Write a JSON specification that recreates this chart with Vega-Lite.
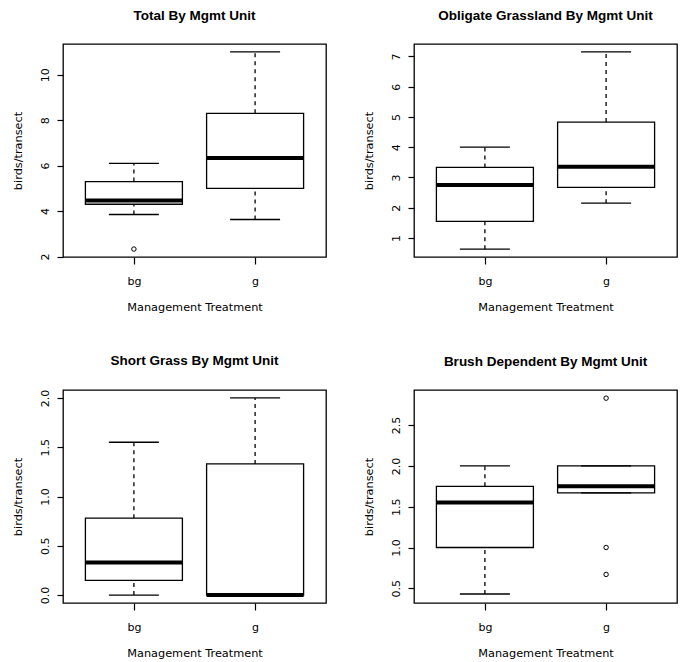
{
  "$schema": "https://vega.github.io/schema/vega-lite/v6.json",
  "background": "white",
  "padding": {"left": 11, "top": 7, "right": 0, "bottom": 0},
  "bounds": "flush",
  "columns": 2,
  "spacing": {"row": 133, "column": 88},
  "datasets": {
    "stats": [
      {"panel": "total", "group": "bg", "lower": 3.85, "q1": 4.3, "median": 4.47, "q3": 5.3, "upper": 6.1},
      {"panel": "total", "group": "g", "lower": 3.63, "q1": 5.0, "median": 6.33, "q3": 8.3, "upper": 11.0},
      {"panel": "oblig", "group": "bg", "lower": 0.63, "q1": 1.55, "median": 2.75, "q3": 3.33, "upper": 4.0},
      {"panel": "oblig", "group": "g", "lower": 2.15, "q1": 2.67, "median": 3.35, "q3": 4.83, "upper": 7.15},
      {"panel": "short", "group": "bg", "lower": 0.0, "q1": 0.15, "median": 0.33, "q3": 0.78, "upper": 1.55},
      {"panel": "short", "group": "g", "lower": 0.0, "q1": 0.0, "median": 0.0, "q3": 1.33, "upper": 2.0},
      {"panel": "brush", "group": "bg", "lower": 0.43, "q1": 1.0, "median": 1.55, "q3": 1.75, "upper": 2.0},
      {"panel": "brush", "group": "g", "lower": 1.67, "q1": 1.67, "median": 1.75, "q3": 2.0, "upper": 2.0}
    ],
    "out": [
      {"panel": "total", "group": "bg", "value": 2.33},
      {"panel": "brush", "group": "g", "value": 2.83},
      {"panel": "brush", "group": "g", "value": 1.0},
      {"panel": "brush", "group": "g", "value": 0.67}
    ]
  },
  "concat": [
    {
      "width": 263, "height": 213,
      "title": "Total By Mgmt Unit",
      "layer": [
        {"data": {"name": "stats"}, "transform": [{"filter": "datum.panel === 'total'"}],
         "mark": {"type": "rule", "color": "black", "strokeWidth": 1.3, "strokeDash": [4, 4]},
         "encoding": {
           "x": {"field": "group", "type": "nominal", "scale": {"type": "point", "domain": ["bg", "g"], "padding": 0.585}, "axis": {"title": "Management Treatment"}},
           "y": {"field": "lower", "type": "quantitative", "scale": {"domain": [1.98, 11.35], "nice": false, "zero": false}, "axis": {"title": "birds/transect", "values": [2, 4, 6, 8, 10], "tickCount": 20, "format": "d"}},
           "y2": {"field": "q1"}}},
        {"data": {"name": "stats"}, "transform": [{"filter": "datum.panel === 'total'"}],
         "mark": {"type": "rule", "color": "black", "strokeWidth": 1.3, "strokeDash": [4, 4]},
         "encoding": {
           "x": {"field": "group", "type": "nominal", "scale": {"type": "point", "domain": ["bg", "g"], "padding": 0.585}},
           "y": {"field": "q3", "type": "quantitative", "scale": {"domain": [1.98, 11.35], "nice": false, "zero": false}},
           "y2": {"field": "upper"}}},
        {"data": {"name": "stats"}, "transform": [{"filter": "datum.panel === 'total'"}],
         "mark": {"type": "bar", "width": 97, "fill": "white", "stroke": "black", "strokeWidth": 1.3},
         "encoding": {
           "x": {"field": "group", "type": "nominal", "scale": {"type": "point", "domain": ["bg", "g"], "padding": 0.585}},
           "y": {"field": "q1", "type": "quantitative", "scale": {"domain": [1.98, 11.35], "nice": false, "zero": false}},
           "y2": {"field": "q3"}}},
        {"data": {"name": "stats"}, "transform": [{"filter": "datum.panel === 'total'"}],
         "mark": {"type": "tick", "color": "black", "size": 97, "thickness": 4, "opacity": 1},
         "encoding": {
           "x": {"field": "group", "type": "nominal", "scale": {"type": "point", "domain": ["bg", "g"], "padding": 0.585}},
           "y": {"field": "median", "type": "quantitative", "scale": {"domain": [1.98, 11.35], "nice": false, "zero": false}}}},
        {"data": {"name": "stats"}, "transform": [{"filter": "datum.panel === 'total'"}],
         "mark": {"type": "tick", "color": "black", "size": 50, "thickness": 1.3, "opacity": 1},
         "encoding": {
           "x": {"field": "group", "type": "nominal", "scale": {"type": "point", "domain": ["bg", "g"], "padding": 0.585}},
           "y": {"field": "lower", "type": "quantitative", "scale": {"domain": [1.98, 11.35], "nice": false, "zero": false}}}},
        {"data": {"name": "stats"}, "transform": [{"filter": "datum.panel === 'total'"}],
         "mark": {"type": "tick", "color": "black", "size": 50, "thickness": 1.3, "opacity": 1},
         "encoding": {
           "x": {"field": "group", "type": "nominal", "scale": {"type": "point", "domain": ["bg", "g"], "padding": 0.585}},
           "y": {"field": "upper", "type": "quantitative", "scale": {"domain": [1.98, 11.35], "nice": false, "zero": false}}}},
        {"data": {"name": "out"}, "transform": [{"filter": "datum.panel === 'total'"}],
         "mark": {"type": "point", "shape": "circle", "filled": false, "color": "black", "size": 20, "strokeWidth": 1, "opacity": 1},
         "encoding": {
           "x": {"field": "group", "type": "nominal", "scale": {"type": "point", "domain": ["bg", "g"], "padding": 0.585}},
           "y": {"field": "value", "type": "quantitative", "scale": {"domain": [1.98, 11.35], "nice": false, "zero": false}}}}
      ]
    },
    {
      "width": 263, "height": 213,
      "title": "Obligate Grassland By Mgmt Unit",
      "layer": [
        {"data": {"name": "stats"}, "transform": [{"filter": "datum.panel === 'oblig'"}],
         "mark": {"type": "rule", "color": "black", "strokeWidth": 1.3, "strokeDash": [4, 4]},
         "encoding": {
           "x": {"field": "group", "type": "nominal", "scale": {"type": "point", "domain": ["bg", "g"], "padding": 0.585}, "axis": {"title": "Management Treatment"}},
           "y": {"field": "lower", "type": "quantitative", "scale": {"domain": [0.37, 7.41], "nice": false, "zero": false}, "axis": {"title": "birds/transect", "values": [1, 2, 3, 4, 5, 6, 7], "tickCount": 20, "format": "d"}},
           "y2": {"field": "q1"}}},
        {"data": {"name": "stats"}, "transform": [{"filter": "datum.panel === 'oblig'"}],
         "mark": {"type": "rule", "color": "black", "strokeWidth": 1.3, "strokeDash": [4, 4]},
         "encoding": {
           "x": {"field": "group", "type": "nominal", "scale": {"type": "point", "domain": ["bg", "g"], "padding": 0.585}},
           "y": {"field": "q3", "type": "quantitative", "scale": {"domain": [0.37, 7.41], "nice": false, "zero": false}},
           "y2": {"field": "upper"}}},
        {"data": {"name": "stats"}, "transform": [{"filter": "datum.panel === 'oblig'"}],
         "mark": {"type": "bar", "width": 97, "fill": "white", "stroke": "black", "strokeWidth": 1.3},
         "encoding": {
           "x": {"field": "group", "type": "nominal", "scale": {"type": "point", "domain": ["bg", "g"], "padding": 0.585}},
           "y": {"field": "q1", "type": "quantitative", "scale": {"domain": [0.37, 7.41], "nice": false, "zero": false}},
           "y2": {"field": "q3"}}},
        {"data": {"name": "stats"}, "transform": [{"filter": "datum.panel === 'oblig'"}],
         "mark": {"type": "tick", "color": "black", "size": 97, "thickness": 4, "opacity": 1},
         "encoding": {
           "x": {"field": "group", "type": "nominal", "scale": {"type": "point", "domain": ["bg", "g"], "padding": 0.585}},
           "y": {"field": "median", "type": "quantitative", "scale": {"domain": [0.37, 7.41], "nice": false, "zero": false}}}},
        {"data": {"name": "stats"}, "transform": [{"filter": "datum.panel === 'oblig'"}],
         "mark": {"type": "tick", "color": "black", "size": 50, "thickness": 1.3, "opacity": 1},
         "encoding": {
           "x": {"field": "group", "type": "nominal", "scale": {"type": "point", "domain": ["bg", "g"], "padding": 0.585}},
           "y": {"field": "lower", "type": "quantitative", "scale": {"domain": [0.37, 7.41], "nice": false, "zero": false}}}},
        {"data": {"name": "stats"}, "transform": [{"filter": "datum.panel === 'oblig'"}],
         "mark": {"type": "tick", "color": "black", "size": 50, "thickness": 1.3, "opacity": 1},
         "encoding": {
           "x": {"field": "group", "type": "nominal", "scale": {"type": "point", "domain": ["bg", "g"], "padding": 0.585}},
           "y": {"field": "upper", "type": "quantitative", "scale": {"domain": [0.37, 7.41], "nice": false, "zero": false}}}}
      ]
    },
    {
      "width": 263, "height": 213,
      "title": "Short Grass By Mgmt Unit",
      "layer": [
        {"data": {"name": "stats"}, "transform": [{"filter": "datum.panel === 'short'"}],
         "mark": {"type": "rule", "color": "black", "strokeWidth": 1.3, "strokeDash": [4, 4]},
         "encoding": {
           "x": {"field": "group", "type": "nominal", "scale": {"type": "point", "domain": ["bg", "g"], "padding": 0.585}, "axis": {"title": "Management Treatment"}},
           "y": {"field": "lower", "type": "quantitative", "scale": {"domain": [-0.08, 2.08], "nice": false, "zero": false}, "axis": {"title": "birds/transect", "values": [0, 0.5, 1, 1.5, 2], "tickCount": 20, "format": ".1f"}},
           "y2": {"field": "q1"}}},
        {"data": {"name": "stats"}, "transform": [{"filter": "datum.panel === 'short'"}],
         "mark": {"type": "rule", "color": "black", "strokeWidth": 1.3, "strokeDash": [4, 4]},
         "encoding": {
           "x": {"field": "group", "type": "nominal", "scale": {"type": "point", "domain": ["bg", "g"], "padding": 0.585}},
           "y": {"field": "q3", "type": "quantitative", "scale": {"domain": [-0.08, 2.08], "nice": false, "zero": false}},
           "y2": {"field": "upper"}}},
        {"data": {"name": "stats"}, "transform": [{"filter": "datum.panel === 'short'"}],
         "mark": {"type": "bar", "width": 97, "fill": "white", "stroke": "black", "strokeWidth": 1.3},
         "encoding": {
           "x": {"field": "group", "type": "nominal", "scale": {"type": "point", "domain": ["bg", "g"], "padding": 0.585}},
           "y": {"field": "q1", "type": "quantitative", "scale": {"domain": [-0.08, 2.08], "nice": false, "zero": false}},
           "y2": {"field": "q3"}}},
        {"data": {"name": "stats"}, "transform": [{"filter": "datum.panel === 'short'"}],
         "mark": {"type": "tick", "color": "black", "size": 97, "thickness": 4, "opacity": 1},
         "encoding": {
           "x": {"field": "group", "type": "nominal", "scale": {"type": "point", "domain": ["bg", "g"], "padding": 0.585}},
           "y": {"field": "median", "type": "quantitative", "scale": {"domain": [-0.08, 2.08], "nice": false, "zero": false}}}},
        {"data": {"name": "stats"}, "transform": [{"filter": "datum.panel === 'short'"}],
         "mark": {"type": "tick", "color": "black", "size": 50, "thickness": 1.3, "opacity": 1},
         "encoding": {
           "x": {"field": "group", "type": "nominal", "scale": {"type": "point", "domain": ["bg", "g"], "padding": 0.585}},
           "y": {"field": "lower", "type": "quantitative", "scale": {"domain": [-0.08, 2.08], "nice": false, "zero": false}}}},
        {"data": {"name": "stats"}, "transform": [{"filter": "datum.panel === 'short'"}],
         "mark": {"type": "tick", "color": "black", "size": 50, "thickness": 1.3, "opacity": 1},
         "encoding": {
           "x": {"field": "group", "type": "nominal", "scale": {"type": "point", "domain": ["bg", "g"], "padding": 0.585}},
           "y": {"field": "upper", "type": "quantitative", "scale": {"domain": [-0.08, 2.08], "nice": false, "zero": false}}}}
      ]
    },
    {
      "width": 263, "height": 213,
      "title": "Brush Dependent By Mgmt Unit",
      "layer": [
        {"data": {"name": "stats"}, "transform": [{"filter": "datum.panel === 'brush'"}],
         "mark": {"type": "rule", "color": "black", "strokeWidth": 1.3, "strokeDash": [4, 4]},
         "encoding": {
           "x": {"field": "group", "type": "nominal", "scale": {"type": "point", "domain": ["bg", "g"], "padding": 0.585}, "axis": {"title": "Management Treatment"}},
           "y": {"field": "lower", "type": "quantitative", "scale": {"domain": [0.32, 2.93], "nice": false, "zero": false}, "axis": {"title": "birds/transect", "values": [0.5, 1, 1.5, 2, 2.5], "tickCount": 20, "format": ".1f"}},
           "y2": {"field": "q1"}}},
        {"data": {"name": "stats"}, "transform": [{"filter": "datum.panel === 'brush'"}],
         "mark": {"type": "rule", "color": "black", "strokeWidth": 1.3, "strokeDash": [4, 4]},
         "encoding": {
           "x": {"field": "group", "type": "nominal", "scale": {"type": "point", "domain": ["bg", "g"], "padding": 0.585}},
           "y": {"field": "q3", "type": "quantitative", "scale": {"domain": [0.32, 2.93], "nice": false, "zero": false}},
           "y2": {"field": "upper"}}},
        {"data": {"name": "stats"}, "transform": [{"filter": "datum.panel === 'brush'"}],
         "mark": {"type": "bar", "width": 97, "fill": "white", "stroke": "black", "strokeWidth": 1.3},
         "encoding": {
           "x": {"field": "group", "type": "nominal", "scale": {"type": "point", "domain": ["bg", "g"], "padding": 0.585}},
           "y": {"field": "q1", "type": "quantitative", "scale": {"domain": [0.32, 2.93], "nice": false, "zero": false}},
           "y2": {"field": "q3"}}},
        {"data": {"name": "stats"}, "transform": [{"filter": "datum.panel === 'brush'"}],
         "mark": {"type": "tick", "color": "black", "size": 97, "thickness": 4, "opacity": 1},
         "encoding": {
           "x": {"field": "group", "type": "nominal", "scale": {"type": "point", "domain": ["bg", "g"], "padding": 0.585}},
           "y": {"field": "median", "type": "quantitative", "scale": {"domain": [0.32, 2.93], "nice": false, "zero": false}}}},
        {"data": {"name": "stats"}, "transform": [{"filter": "datum.panel === 'brush'"}],
         "mark": {"type": "tick", "color": "black", "size": 50, "thickness": 1.3, "opacity": 1},
         "encoding": {
           "x": {"field": "group", "type": "nominal", "scale": {"type": "point", "domain": ["bg", "g"], "padding": 0.585}},
           "y": {"field": "lower", "type": "quantitative", "scale": {"domain": [0.32, 2.93], "nice": false, "zero": false}}}},
        {"data": {"name": "stats"}, "transform": [{"filter": "datum.panel === 'brush'"}],
         "mark": {"type": "tick", "color": "black", "size": 50, "thickness": 1.3, "opacity": 1},
         "encoding": {
           "x": {"field": "group", "type": "nominal", "scale": {"type": "point", "domain": ["bg", "g"], "padding": 0.585}},
           "y": {"field": "upper", "type": "quantitative", "scale": {"domain": [0.32, 2.93], "nice": false, "zero": false}}}},
        {"data": {"name": "out"}, "transform": [{"filter": "datum.panel === 'brush'"}],
         "mark": {"type": "point", "shape": "circle", "filled": false, "color": "black", "size": 20, "strokeWidth": 1, "opacity": 1},
         "encoding": {
           "x": {"field": "group", "type": "nominal", "scale": {"type": "point", "domain": ["bg", "g"], "padding": 0.585}},
           "y": {"field": "value", "type": "quantitative", "scale": {"domain": [0.32, 2.93], "nice": false, "zero": false}}}}
      ]
    }
  ],
  "config": {
    "view": {"stroke": "black", "strokeWidth": 1.3, "fill": "white"},
    "title": {"font": "Liberation Sans", "fontSize": 13.5, "fontWeight": "bold", "color": "black", "offset": 22, "baseline": "alphabetic", "frame": "group", "anchor": "middle"},
    "axis": {"domain": false, "grid": false, "tickColor": "black", "tickWidth": 1.2, "labelColor": "black", "titleColor": "black", "labelFont": "DejaVu Sans", "titleFont": "DejaVu Sans", "labelFontSize": 11, "titleFontSize": 11.3, "titleFontWeight": "normal", "labelFlush": false, "labelOverlap": false},
    "axisY": {"labelAngle": 270, "labelAlign": "center", "labelBaseline": "middle", "labelPadding": 12, "tickSize": 6, "titleAngle": 270, "titleX": -45, "titleY": 106.5, "titleAlign": "center", "titleBaseline": "middle"},
    "axisX": {"labelAngle": 0, "labelAlign": "center", "labelPadding": 20, "labelBaseline": "alphabetic", "tickSize": 7, "titleX": 131.5, "titleY": 53, "titleAlign": "center", "titleBaseline": "alphabetic"}
  }
}
